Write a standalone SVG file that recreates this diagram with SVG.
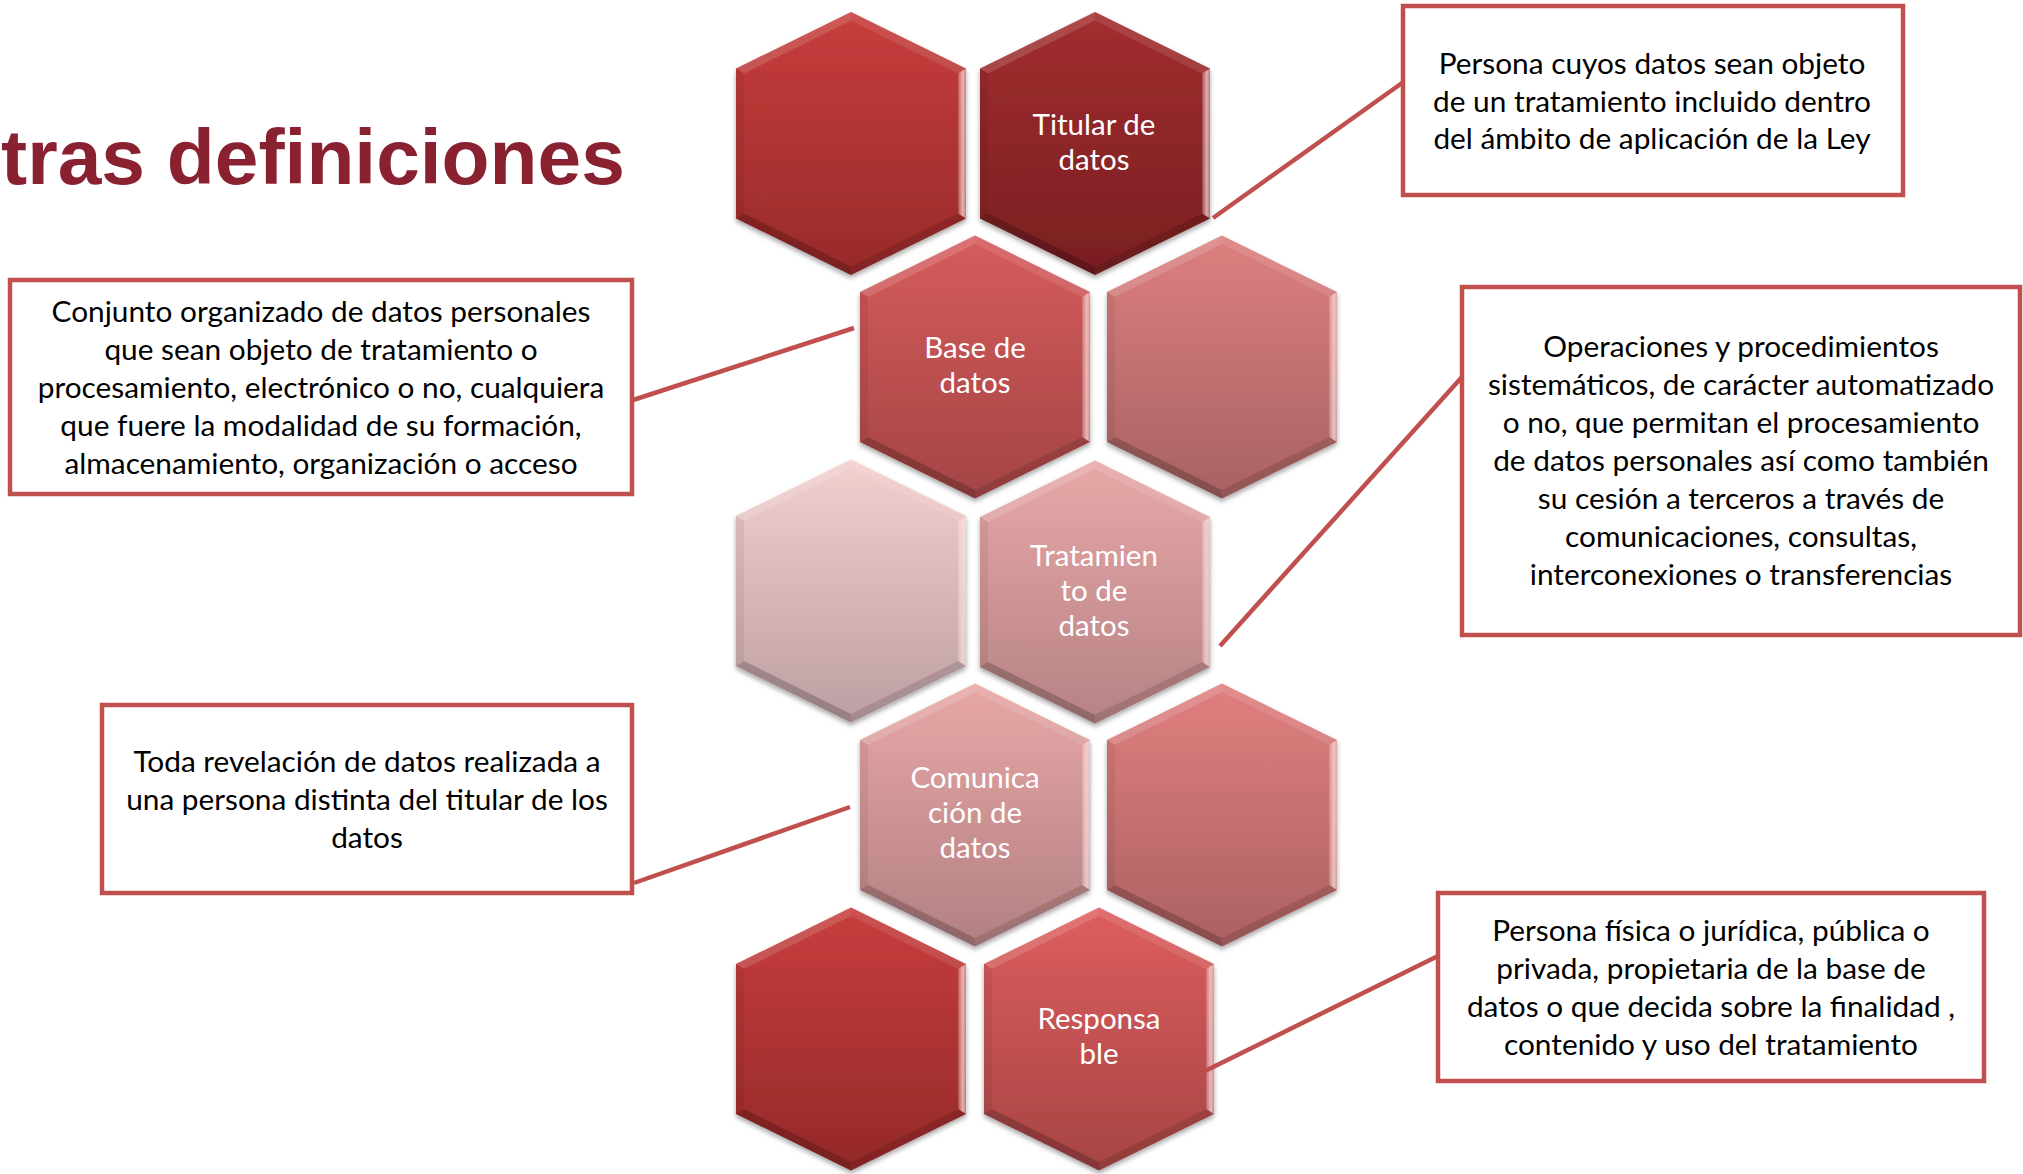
<svg xmlns="http://www.w3.org/2000/svg" xmlns:xlink="http://www.w3.org/1999/xlink" width="2023" height="1174" viewBox="0 0 2023 1174">
<style>
.hexlabel{font-family:Lato,"Open Sans","Liberation Sans",sans-serif;font-size:29.5px;fill:#ffffff;text-anchor:middle}
.boxtext{font-family:Lato,"Open Sans","Liberation Sans",sans-serif;font-size:29.8px;fill:#000000;text-anchor:middle}
.box{fill:#ffffff;stroke:#c0504d;stroke-width:4.5}
.conn{stroke:#c0504d;stroke-width:4.5;fill:none}
.title{font-family:"Liberation Sans",Arial,sans-serif;font-weight:bold;font-size:78.5px;fill:#8a2131}
</style>
<defs>
<filter id="sh" x="-10%" y="-10%" width="120%" height="125%">
<feDropShadow dx="0" dy="3" stdDeviation="2.5" flood-color="#000" flood-opacity="0.35"/>
</filter>
<linearGradient id="g1" x1="0" y1="0" x2="0" y2="1"><stop offset="0" stop-color="#c73e3d"/><stop offset="1" stop-color="#972a2a"/></linearGradient>
<linearGradient id="g2" x1="0" y1="0" x2="0" y2="1"><stop offset="0" stop-color="#a22e30"/><stop offset="1" stop-color="#781e21"/></linearGradient>
<linearGradient id="g3" x1="0" y1="0" x2="0" y2="1"><stop offset="0" stop-color="#d75c5c"/><stop offset="1" stop-color="#a34445"/></linearGradient>
<linearGradient id="g4" x1="0" y1="0" x2="0" y2="1"><stop offset="0" stop-color="#dd7f7f"/><stop offset="1" stop-color="#a86262"/></linearGradient>
<linearGradient id="g5" x1="0" y1="0" x2="0" y2="1"><stop offset="0" stop-color="#f3cfcf"/><stop offset="1" stop-color="#bc9ea2"/></linearGradient>
<linearGradient id="g6" x1="0" y1="0" x2="0" y2="1"><stop offset="0" stop-color="#e9a8a8"/><stop offset="1" stop-color="#b58283"/></linearGradient>
<linearGradient id="g7" x1="0" y1="0" x2="0" y2="1"><stop offset="0" stop-color="#e9a7a7"/><stop offset="1" stop-color="#b28081"/></linearGradient>
<linearGradient id="g8" x1="0" y1="0" x2="0" y2="1"><stop offset="0" stop-color="#e07f7f"/><stop offset="1" stop-color="#ac6161"/></linearGradient>
<linearGradient id="g9" x1="0" y1="0" x2="0" y2="1"><stop offset="0" stop-color="#c73e3d"/><stop offset="1" stop-color="#942929"/></linearGradient>
<linearGradient id="g10" x1="0" y1="0" x2="0" y2="1"><stop offset="0" stop-color="#de5e5e"/><stop offset="1" stop-color="#a64445"/></linearGradient>
<linearGradient id="rb" x1="0" y1="0" x2="1" y2="0"><stop offset="0" stop-color="#ffffff" stop-opacity="0.15"/><stop offset="0.6" stop-color="#ffd8d8" stop-opacity="0.75"/><stop offset="1" stop-color="#ffffff" stop-opacity="0.35"/></linearGradient>
<polygon id="hexshape" points="0,-131.5 115,-75 115,75 0,131.5 -115,75 -115,-75"/>
<g id="bevel">
<polygon points="0,-131.5 0,-123 -107,-70 -115,-75" fill="#ffffff" fill-opacity="0.14"/>
<polygon points="0,-131.5 115,-75 107,-70 0,-123" fill="#ffffff" fill-opacity="0.1"/>
<polygon points="115,-75 115,75 107,70 107,-70" fill="url(#rb)"/>
<polygon points="115,75 0,131.5 0,123 107,70" fill="#000000" fill-opacity="0.12"/>
<polygon points="0,131.5 -115,75 -107,70 0,123" fill="#000000" fill-opacity="0.2"/>
<polygon points="-115,75 -115,-75 -107,-70 -107,70" fill="#000000" fill-opacity="0.06"/>
</g>
</defs>
<rect x="0" y="0" width="2023" height="1174" fill="#ffffff"/>
<text id="title" class="title" x="1" y="184">tras definiciones</text>

<g id="hex1" transform="translate(851,143.5)" filter="url(#sh)"><use xlink:href="#hexshape" fill="url(#g1)"/><use xlink:href="#bevel"/></g>
<g id="hex-titular" transform="translate(1095,143.5)" filter="url(#sh)"><use xlink:href="#hexshape" fill="url(#g2)"/><use xlink:href="#bevel"/></g>
<g id="hex-base" transform="translate(975,367)" filter="url(#sh)"><use xlink:href="#hexshape" fill="url(#g3)"/><use xlink:href="#bevel"/></g>
<g id="hex4" transform="translate(1222,367)" filter="url(#sh)"><use xlink:href="#hexshape" fill="url(#g4)"/><use xlink:href="#bevel"/></g>
<g id="hex5" transform="translate(851,591)" filter="url(#sh)"><use xlink:href="#hexshape" fill="url(#g5)"/><use xlink:href="#bevel"/></g>
<g id="hex-tratamiento" transform="translate(1095,592)" filter="url(#sh)"><use xlink:href="#hexshape" fill="url(#g6)"/><use xlink:href="#bevel"/></g>
<g id="hex-comunicacion" transform="translate(975,815)" filter="url(#sh)"><use xlink:href="#hexshape" fill="url(#g7)"/><use xlink:href="#bevel"/></g>
<g id="hex8" transform="translate(1222,815)" filter="url(#sh)"><use xlink:href="#hexshape" fill="url(#g8)"/><use xlink:href="#bevel"/></g>
<g id="hex9" transform="translate(851,1039)" filter="url(#sh)"><use xlink:href="#hexshape" fill="url(#g9)"/><use xlink:href="#bevel"/></g>
<g id="hex-responsable" transform="translate(1099,1039)" filter="url(#sh)"><use xlink:href="#hexshape" fill="url(#g10)"/><use xlink:href="#bevel"/></g>

<g id="hex-labels">
<text class="hexlabel" x="1094" y="135">Titular de</text>
<text class="hexlabel" x="1094" y="170">datos</text>
<text class="hexlabel" x="975" y="358">Base de</text>
<text class="hexlabel" x="975" y="393">datos</text>
<text class="hexlabel" x="1094" y="566">Tratamien</text>
<text class="hexlabel" x="1094" y="601">to de</text>
<text class="hexlabel" x="1094" y="636">datos</text>
<text class="hexlabel" x="975" y="788">Comunica</text>
<text class="hexlabel" x="975" y="823">ción de</text>
<text class="hexlabel" x="975" y="858">datos</text>
<text class="hexlabel" x="1099" y="1029">Responsa</text>
<text class="hexlabel" x="1099" y="1064">ble</text>
</g>

<g id="connectors">
<line class="conn" x1="633" y1="400" x2="854" y2="328"/>
<line class="conn" x1="1213" y1="218" x2="1402" y2="83"/>
<line class="conn" x1="1220" y1="646" x2="1462" y2="377"/>
<line class="conn" x1="634" y1="883" x2="850" y2="807"/>
<line class="conn" x1="1205" y1="1071" x2="1438" y2="956"/>
</g>

<g id="box-base">
<rect class="box" x="10" y="280" width="622" height="214"/>
<text class="boxtext" x="321" y="322">Conjunto organizado de datos personales</text>
<text class="boxtext" x="321" y="360">que sean objeto de tratamiento o</text>
<text class="boxtext" x="321" y="398">procesamiento, electrónico o no, cualquiera</text>
<text class="boxtext" x="321" y="436">que fuere la modalidad de su formación,</text>
<text class="boxtext" x="321" y="474">almacenamiento, organización o acceso</text>
</g>
<g id="box-titular">
<rect class="box" x="1403" y="6" width="500" height="189"/>
<text class="boxtext" x="1652" y="74">Persona cuyos datos sean objeto</text>
<text class="boxtext" x="1652" y="112">de un tratamiento incluido dentro</text>
<text class="boxtext" x="1652" y="149">del ámbito de aplicación de la Ley</text>
</g>
<g id="box-tratamiento">
<rect class="box" x="1462" y="287" width="558" height="348"/>
<text class="boxtext" x="1741" y="357">Operaciones y procedimientos</text>
<text class="boxtext" x="1741" y="395">sistemáticos, de carácter automatizado</text>
<text class="boxtext" x="1741" y="433">o no, que permitan el procesamiento</text>
<text class="boxtext" x="1741" y="471">de datos personales así como también</text>
<text class="boxtext" x="1741" y="509">su cesión a terceros a través de</text>
<text class="boxtext" x="1741" y="547">comunicaciones, consultas,</text>
<text class="boxtext" x="1741" y="585">interconexiones o transferencias</text>
</g>
<g id="box-comunicacion">
<rect class="box" x="102" y="705" width="530" height="188"/>
<text class="boxtext" x="367" y="772">Toda revelación de datos realizada a</text>
<text class="boxtext" x="367" y="810">una persona distinta del titular de los</text>
<text class="boxtext" x="367" y="848">datos</text>
</g>
<g id="box-responsable">
<rect class="box" x="1438" y="893" width="546" height="188"/>
<text class="boxtext" x="1711" y="941">Persona física o jurídica, pública o</text>
<text class="boxtext" x="1711" y="979">privada, propietaria de la base de</text>
<text class="boxtext" x="1711" y="1017">datos o que decida sobre la finalidad ,</text>
<text class="boxtext" x="1711" y="1055">contenido y uso del tratamiento</text>
</g>
</svg>
